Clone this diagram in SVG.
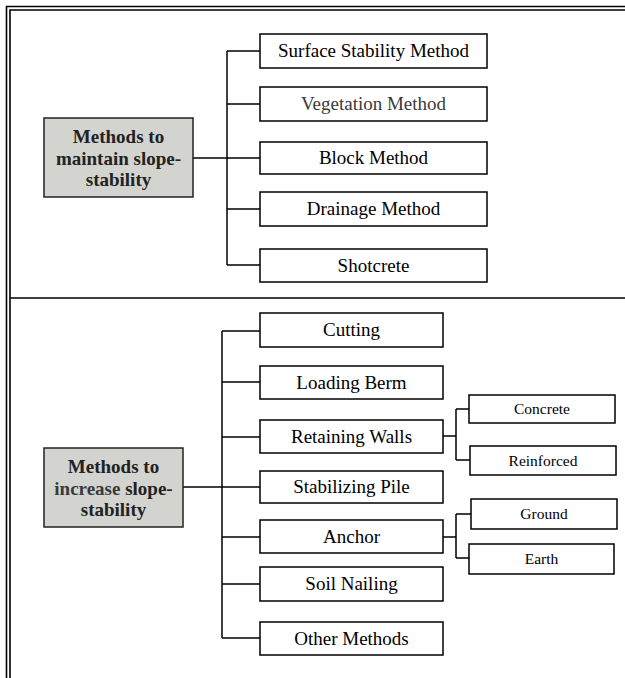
<svg xmlns="http://www.w3.org/2000/svg" width="625" height="678" viewBox="0 0 625 678">
  <style>
    .frame { fill: none; stroke: #000; stroke-width: 1.6; }
    .box { fill: #fff; stroke: #000; stroke-width: 1.5; }
    .root { fill: #d3d4cf; stroke: #222; stroke-width: 1.5; }
    .link { fill: none; stroke: #000; stroke-width: 1.5; }
    text { font-family: "Liberation Serif", "Times New Roman", serif; text-anchor: middle; fill: #000; }
    .lbl { font-size: 19px; }
    .sub { font-size: 15.5px; }
    .head { font-size: 19px; font-weight: bold; fill: #222; }
    .grey { fill: #3a3a3a; }
  </style>
  <rect width="625" height="678" fill="#fff"/>

  <!-- page frame: double rule left and top, single divider -->
  <g id="frame">
    <path class="frame" d="M6.5,678 V6.5 H625"/>
    <path class="frame" d="M10,678 V10 H625"/>
    <path class="frame" d="M10,298 H625"/>
  </g>

  <!-- connectors -->
  <g id="connectors">
    <!-- upper tree -->
    <path class="link" d="M193,158 H227"/>
    <path class="link" d="M227,51 V265"/>
    <path class="link" d="M227,51 H260 M227,104 H260 M227,158 H260 M227,209 H260 M227,265 H260"/>
    <!-- lower tree -->
    <path class="link" d="M183,487 H222"/>
    <path class="link" d="M222,331 V638"/>
    <path class="link" d="M222,331 H260 M222,382 H260 M222,437 H260 M222,487 H260 M222,537 H260 M222,584 H260 M222,638 H260"/>
    <!-- retaining walls branch -->
    <path class="link" d="M443,436 H456 M456,409 V460 M456,409 H469 M456,460 H470"/>
    <!-- anchor branch -->
    <path class="link" d="M443,537 H456 M456,514 V558 M456,514 H471 M456,558 H469"/>
  </g>

  <!-- upper group -->
  <g id="maintain">
    <rect class="root" x="44" y="118" width="149" height="79"/>
    <text class="head" x="118.5" y="143">Methods to</text>
    <text class="head" x="118.5" y="165">maintain slope-</text>
    <text class="head" x="118.5" y="186">stability</text>
  </g>
  <g id="surface">
    <rect class="box" x="260" y="34" width="227" height="34"/>
    <text class="lbl" x="373.5" y="57">Surface Stability Method</text>
  </g>
  <g id="vegetation">
    <rect class="box" x="260" y="87" width="227" height="34"/>
    <text class="lbl grey" x="373.5" y="110">Vegetation Method</text>
  </g>
  <g id="block">
    <rect class="box" x="260" y="142" width="227" height="32"/>
    <text class="lbl" x="373.5" y="164">Block Method</text>
  </g>
  <g id="drainage">
    <rect class="box" x="260" y="192" width="227" height="34"/>
    <text class="lbl" x="373.5" y="215">Drainage Method</text>
  </g>
  <g id="shotcrete">
    <rect class="box" x="260" y="249" width="227" height="33"/>
    <text class="lbl" x="373.5" y="272">Shotcrete</text>
  </g>

  <!-- lower group -->
  <g id="increase">
    <rect class="root" x="44" y="448" width="139" height="79"/>
    <text class="head" x="113.5" y="473">Methods to</text>
    <text class="head" x="113.5" y="495"><tspan class="grey">increase</tspan> slope-</text>
    <text class="head" x="113.5" y="516">stability</text>
  </g>
  <g id="cutting">
    <rect class="box" x="260" y="313" width="183" height="34"/>
    <text class="lbl" x="351.5" y="336">Cutting</text>
  </g>
  <g id="berm">
    <rect class="box" x="260" y="366" width="183" height="33"/>
    <text class="lbl" x="351.5" y="389">Loading Berm</text>
  </g>
  <g id="walls">
    <rect class="box" x="260" y="420" width="183" height="33"/>
    <text class="lbl" x="351.5" y="443">Retaining Walls</text>
  </g>
  <g id="pile">
    <rect class="box" x="260" y="471" width="183" height="32"/>
    <text class="lbl" x="351.5" y="493">Stabilizing Pile</text>
  </g>
  <g id="anchor">
    <rect class="box" x="260" y="520" width="183" height="33"/>
    <text class="lbl" x="351.5" y="543">Anchor</text>
  </g>
  <g id="nailing">
    <rect class="box" x="260" y="567" width="183" height="34"/>
    <text class="lbl" x="351.5" y="590">Soil Nailing</text>
  </g>
  <g id="other">
    <rect class="box" x="260" y="622" width="183" height="33"/>
    <text class="lbl" x="351.5" y="645">Other Methods</text>
  </g>

  <!-- second level -->
  <g id="concrete">
    <rect class="box" x="469" y="395" width="146" height="28"/>
    <text class="sub" x="542" y="414">Concrete</text>
  </g>
  <g id="reinforced">
    <rect class="box" x="470" y="446" width="146" height="29"/>
    <text class="sub" x="543" y="466">Reinforced</text>
  </g>
  <g id="ground">
    <rect class="box" x="471" y="499" width="146" height="30"/>
    <text class="sub" x="544" y="519">Ground</text>
  </g>
  <g id="earth">
    <rect class="box" x="469" y="544" width="145" height="30"/>
    <text class="sub" x="541.5" y="564">Earth</text>
  </g>
</svg>
